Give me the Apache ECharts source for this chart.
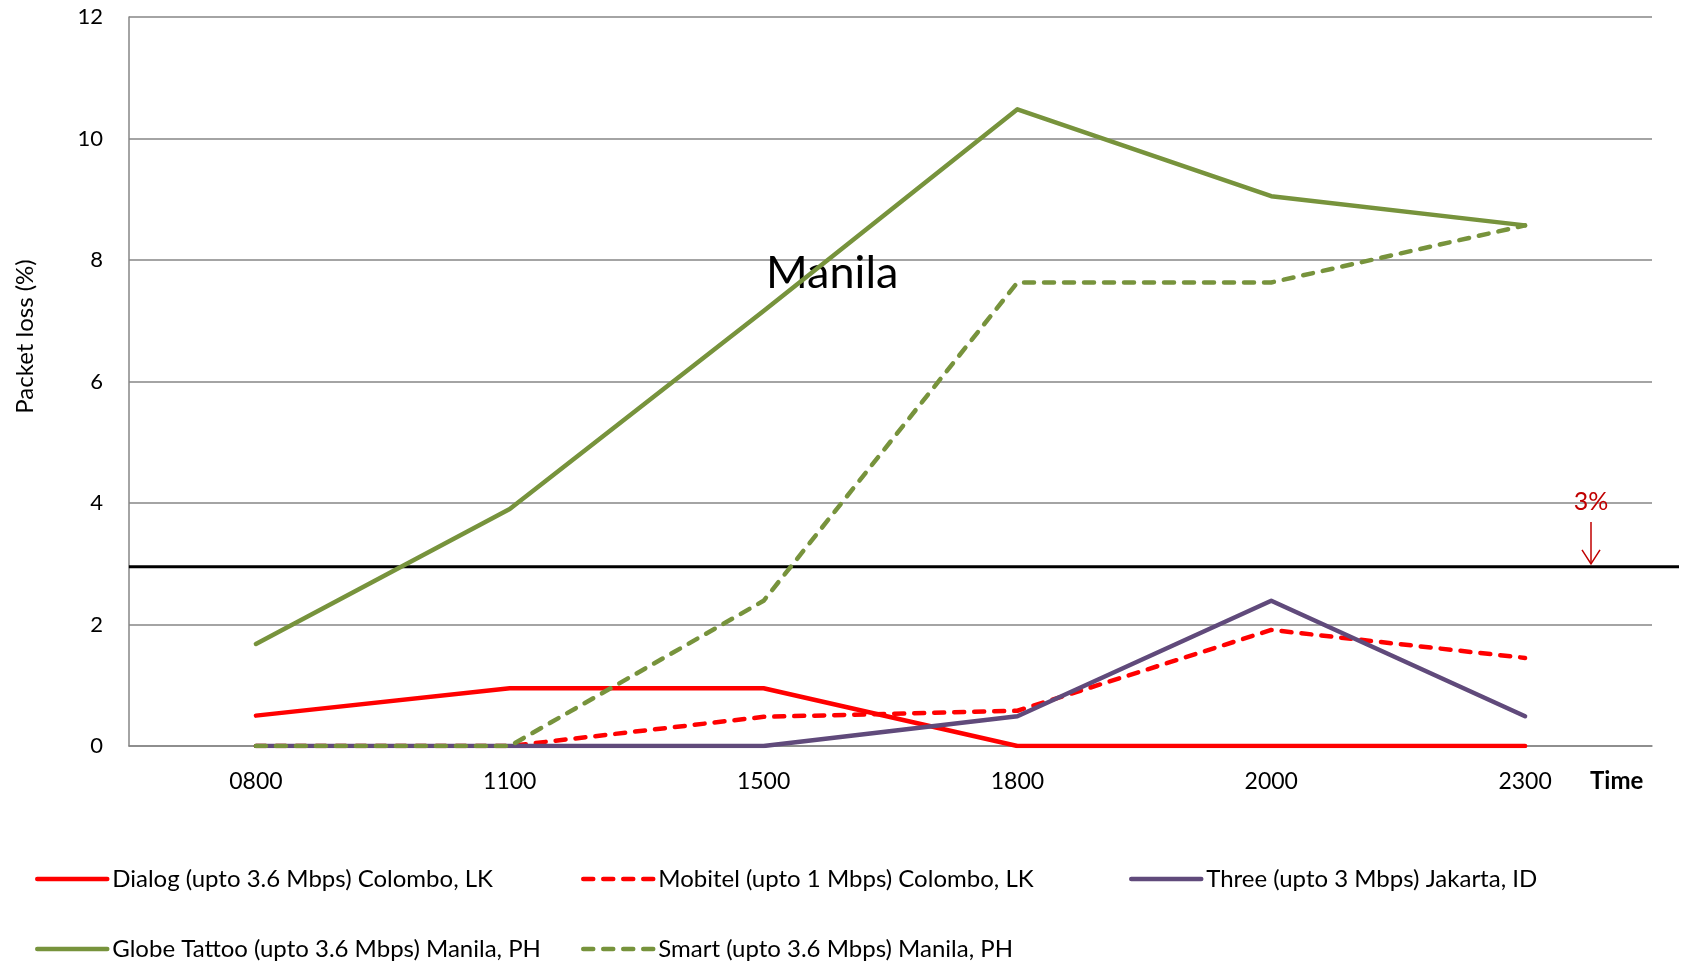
<!DOCTYPE html>
<html>
<head>
<meta charset="utf-8">
<script src="https://cdn.jsdelivr.net/npm/echarts@6/dist/echarts.min.js"></script>
<style>html,body{margin:0;padding:0;background:#fff}#c{width:1684px;height:964px}</style>
</head>
<body>
<div id="c"></div>
<script>
const categories = ['0800', '1100', '1500', '1800', '2000', '2300'];
const dialog = [0.5, 0.95, 0.95, 0, 0, 0];
const mobitel = [0, 0, 0.48, 0.58, 1.91, 1.45];
const three = [0, 0, 0, 0.49, 2.39, 0.49];
const globe = [1.68, 3.9, 7.16, 10.48, 9.05, 8.57];
const smart = [0, 0, 2.39, 7.63, 7.63, 8.57];
const seriesNames = [
  'Dialog (upto 3.6 Mbps) Colombo, LK',
  'Mobitel (upto 1 Mbps) Colombo, LK',
  'Three (upto 3 Mbps) Jakarta, ID',
  'Globe Tattoo (upto 3.6 Mbps) Manila, PH',
  'Smart (upto 3.6 Mbps) Manila, PH'
];
const threshold = 2.95;

const FONT = 'Lato, "Open Sans", sans-serif';
const RED = '#FF0000', GREEN = '#77933C', PURPLE = '#604A7B';

function lineSeries(name, data, color, dashed, z) {
  return {
    name: name, type: 'line', data: data, symbol: 'none', z: z,
    lineStyle: { color: color, width: 4.5, type: dashed ? [10, 10] : 'solid', cap: 'round', join: 'round' },
    itemStyle: { color: color },
    emphasis: { disabled: true }
  };
}

function legendAt(left, top, name) {
  return {
    left: left, top: top, padding: 0, data: [name],
    itemWidth: 70, itemHeight: 20, itemTextGap: 7,
    itemStyle: { color: 'rgba(0,0,0,0)', borderWidth: 0, opacity: 0 },
    lineStyle: { width: 4.5 },
    textStyle: { fontFamily: FONT, fontSize: 24, color: '#000' },
    selectedMode: false
  };
}

const chart = echarts.init(document.getElementById('c'), null, { renderer: 'canvas' });
chart.setOption({
  animation: false,
  backgroundColor: '#fff',
  grid: { left: 129, right: 32, top: 17, bottom: 218 },
  xAxis: {
    type: 'category', data: categories, boundaryGap: true,
    axisLine: { show: true, lineStyle: { color: '#868686', width: 1.5 } },
    axisTick: { show: false },
    axisLabel: { fontFamily: FONT, fontSize: 23, color: '#000', margin: 24 },
    name: 'Time', nameLocation: 'end', nameGap: -62,
    nameTextStyle: { fontFamily: FONT, fontSize: 24, fontWeight: 'bold', color: '#000', align: 'left', verticalAlign: 'top', padding: [23, 0, 0, 0] }
  },
  yAxis: {
    type: 'value', min: 0, max: 12, interval: 2,
    axisLine: { show: true, lineStyle: { color: '#868686', width: 1.5 } },
    axisTick: { show: false },
    splitLine: { show: true, lineStyle: { color: '#868686', width: 1.5 } },
    axisLabel: { fontFamily: FONT, fontSize: 22, color: '#000', margin: 26 },
    name: 'Packet loss (%)', nameLocation: 'middle', nameGap: 92,
    nameTextStyle: { fontFamily: FONT, fontSize: 24, color: '#000', padding: [0, 0, 0, 90] }
  },
  legend: [
    legendAt(35, 867, seriesNames[0]),
    legendAt(581, 867, seriesNames[1]),
    legendAt(1129, 867, seriesNames[2]),
    legendAt(35, 937, seriesNames[3]),
    legendAt(581, 937, seriesNames[4])
  ],
  series: [
    lineSeries(seriesNames[0], dialog, RED, false, 3),
    lineSeries(seriesNames[1], mobitel, RED, true, 4),
    lineSeries(seriesNames[2], three, PURPLE, false, 5),
    lineSeries(seriesNames[3], globe, GREEN, false, 6),
    lineSeries(seriesNames[4], smart, GREEN, true, 7)
  ]
});

// threshold line (position from the y scale), extending past the plot edge, plus annotations
const yT = chart.convertToPixel({ yAxisIndex: 0 }, threshold);
const xL = chart.convertToPixel({ xAxisIndex: 0 }, categories[0]) - 127;
chart.setOption({
  graphic: [
    { type: 'line', z: 2, shape: { x1: xL, y1: yT, x2: 1679, y2: yT }, style: { stroke: '#000', lineWidth: 3 } },
    { type: 'text', left: 766, top: 251, style: { text: 'Manila', fontFamily: FONT, fontSize: 45, fill: '#000' } },
    { type: 'text', x: 1591, y: 502, style: { text: '3%', fontFamily: FONT, fontSize: 25, fill: '#C00000', align: 'center', verticalAlign: 'middle' } },
    { type: 'line', shape: { x1: 1591, y1: 522, x2: 1591, y2: yT - 3 }, style: { stroke: '#C00000', lineWidth: 1.5 } },
    { type: 'polyline', shape: { points: [[1582, yT - 17], [1591, yT - 3], [1600, yT - 17]] }, style: { stroke: '#C00000', lineWidth: 1.5, fill: null } }
  ]
});
</script>
</body>
</html>
